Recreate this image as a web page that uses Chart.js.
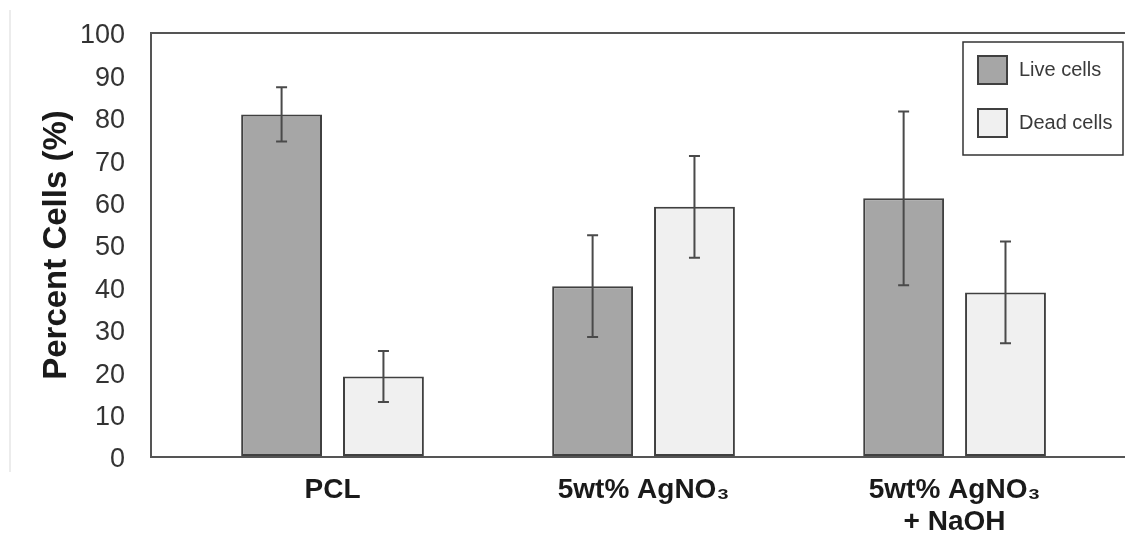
<!DOCTYPE html>
<html>
<head>
<meta charset="utf-8">
<script src="https://cdn.jsdelivr.net/npm/chart.js@4/dist/chart.umd.min.js"></script>
<style>
  body { margin: 0; background: #fff; }
  #wrap { position: relative; width: 1125px; height: 535px; }
  #edge { position: absolute; left: 9px; top: 10px; height: 462px; border-left: 2px solid #ececec; }
</style>
</head>
<body>
<div id="wrap">
  <div id="edge"></div>
  <canvas id="myChart" width="1125" height="535"></canvas>
</div>
<script>
// categories and measured values (percent of cells)
const categories = ["PCL", ["5wt% AgNO\u2083"], ["5wt% AgNO\u2083", "+ NaOH"]];
const liveCells = [80.8, 40.3, 61.0];
const liveErr = [6.4, 12.0, 20.5];
const deadCells = [19.0, 59.0, 38.8];
const deadErr = [6.0, 12.0, 12.0];
const yTicks = [0, 10, 20, 30, 40, 50, 60, 70, 80, 90, 100];

// turn a list of values into {x, y} points on the linear x axis
function toPoints(values) {
    return values.map(function (v, i) {
        return { x: i, y: v };
    });
}

// draws the error bars on top of each bar
const errorBars = {
    id: "errorBars",
    afterDatasetsDraw: function (chart) {
        const ctx = chart.ctx;
        const yScale = chart.scales.y;
        ctx.save();
        ctx.strokeStyle = "#4a4a4a";
        ctx.lineWidth = 2;
        chart.data.datasets.forEach(function (ds, i) {
            const meta = chart.getDatasetMeta(i);
            meta.data.forEach(function (bar, j) {
                const v = ds.data[j].y;
                const e = ds.errors[j];
                const top = yScale.getPixelForValue(v + e);
                const bottom = yScale.getPixelForValue(v - e);
                ctx.beginPath();
                ctx.moveTo(bar.x, top);
                ctx.lineTo(bar.x, bottom);
                ctx.moveTo(bar.x - 5.5, top);
                ctx.lineTo(bar.x + 5.5, top);
                ctx.moveTo(bar.x - 5.5, bottom);
                ctx.lineTo(bar.x + 5.5, bottom);
                ctx.stroke();
            });
        });
        ctx.restore();
    }
};

// boxed legend inside the plot, top right
const boxLegend = {
    id: "boxLegend",
    afterDraw: function (chart) {
        const ctx = chart.ctx;
        const left = 963, top = 42, width = 160, height = 113;
        ctx.save();
        ctx.fillStyle = "#fff";
        ctx.fillRect(left, top, width, height);
        ctx.strokeStyle = "#333";
        ctx.lineWidth = 1.5;
        ctx.strokeRect(left, top, width, height);
        ctx.font = "20px 'Liberation Sans', Arial, sans-serif";
        ctx.textBaseline = "middle";
        chart.data.datasets.forEach(function (ds, i) {
            const sy = top + 13 + i * 53;
            ctx.fillStyle = ds.backgroundColor;
            ctx.fillRect(left + 14, sy, 31, 30);
            ctx.strokeStyle = ds.borderColor;
            ctx.lineWidth = 2;
            ctx.strokeRect(left + 15, sy + 1, 29, 28);
            ctx.fillStyle = "#3a3a3a";
            ctx.fillText(ds.label, left + 56, sy + 15);
        });
        ctx.restore();
    }
};

let ctx = document.getElementById("myChart").getContext("2d");
let chart = new Chart(ctx, {
    type: "bar",
    data: {
        datasets: [{
            label: "Live cells",
            data: toPoints(liveCells),
            errors: liveErr,
            backgroundColor: "#a6a6a6",
            borderColor: "#404040",
            borderWidth: 2,
            borderSkipped: false
        }, {
            label: "Dead cells",
            data: toPoints(deadCells),
            errors: deadErr,
            backgroundColor: "#f0f0f0",
            borderColor: "#404040",
            borderWidth: 2,
            borderSkipped: false
        }]
    },
    options: {
        responsive: false,
        animation: false,
        categoryPercentage: 0.655,
        barPercentage: 0.794,
        layout: { padding: { left: 20, top: 33, right: 0, bottom: 0 } },
        plugins: {
            legend: { display: false },
            tooltip: { enabled: false }
        },
        scales: {
            x: {
                type: "linear",
                offset: false,
                min: -0.5836,
                max: 2.548,
                afterBuildTicks: function (scale) {
                    scale.ticks = categories.map(function (c, i) {
                        return { value: i };
                    });
                },
                afterFit: function (scale) {
                    scale.height = 78;
                    scale.paddingLeft = 0;
                    scale.paddingRight = 0;
                },
                grid: { display: false, drawTicks: false },
                border: { display: true, color: "#555", width: 2 },
                ticks: {
                    autoSkip: false,
                    maxRotation: 0,
                    padding: 18,
                    color: "#1a1a1a",
                    font: { family: "'Liberation Sans', Arial, sans-serif", size: 28, weight: "bold", lineHeight: 1.12 },
                    callback: function (value) {
                        return categories[value];
                    }
                }
            },
            y: {
                min: 0,
                max: 100,
                afterBuildTicks: function (scale) {
                    scale.ticks = yTicks.map(function (v) {
                        return { value: v };
                    });
                },
                afterFit: function (scale) {
                    scale.width = 131;
                    scale.paddingTop = 0;
                    scale.paddingBottom = 0;
                },
                grid: {
                    drawTicks: false,
                    lineWidth: 2,
                    color: function (c) {
                        return c.tick && c.tick.value === 100 ? "#555" : "rgba(0,0,0,0)";
                    }
                },
                border: { display: true, color: "#555", width: 2 },
                ticks: {
                    padding: 26,
                    labelOffset: 3,
                    color: "#333",
                    font: { family: "'Liberation Sans', Arial, sans-serif", size: 27 }
                },
                title: {
                    display: true,
                    text: "Percent Cells (%)",
                    color: "#1a1a1a",
                    padding: { top: 17, bottom: 0 },
                    font: { family: "'Liberation Sans', Arial, sans-serif", size: 33, weight: "bold" }
                }
            }
        }
    },
    plugins: [errorBars, boxLegend]
});
</script>
</body>
</html>
